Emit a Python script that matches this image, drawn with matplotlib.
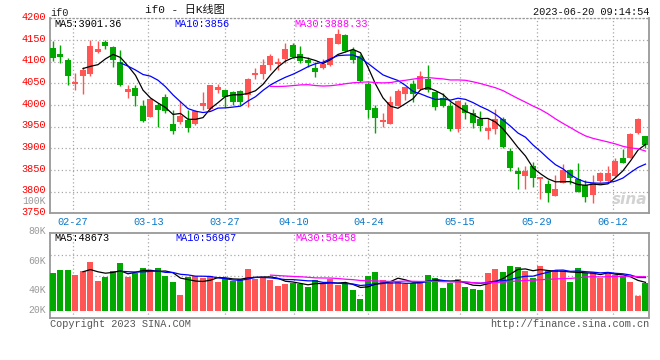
import numpy as np
import matplotlib
matplotlib.use("Agg")
import matplotlib.pyplot as plt
import matplotlib.transforms as mtransforms

# ---------------- data ----------------
opens = [4131, 4118, 4104, 4049, 4068, 4071, 4123, 4145, 4134, 4100,
         4029, 4040, 3998, 3973, 4000, 4019, 3956, 3960, 3965, 3956,
         3998, 3991, 4035, 4035, 4029, 4032, 4023, 4069, 4071, 4092,
         4095, 4105, 4138, 4117, 4104, 4085, 4086, 4092, 4141, 4161,
         4127, 4114, 4048, 3992, 3961, 3956, 3998, 4025, 4048, 4036,
         4061, 4029, 4017, 3998, 3944, 4000, 3981, 3968, 3940, 3944,
         3967, 3894, 3848, 3835, 3859, 3829, 3818, 3791, 3819, 3850,
         3829, 3815, 3792, 3825, 3825, 3835, 3878, 3878, 3935, 3928]
highs = [4148, 4138, 4109, 4073, 4087, 4151, 4148, 4151, 4137, 4127,
         4045, 4045, 4011, 4015, 4004, 4025, 3988, 4009, 3988, 3988,
         4031, 4046, 4048, 4035, 4032, 4035, 4063, 4086, 4106, 4117,
         4108, 4142, 4142, 4135, 4110, 4100, 4106, 4155, 4175, 4163,
         4133, 4117, 4054, 4000, 3981, 4021, 4038, 4042, 4058, 4078,
         4092, 4031, 4027, 4008, 4011, 4006, 3990, 3985, 3971, 3991,
         3973, 3901, 3858, 3860, 3869, 3833, 3827, 3838, 3863, 3852,
         3865, 3827, 3838, 3845, 3859, 3877, 3898, 3935, 3969, 3928]
lows = [4101, 4096, 4045, 4035, 4025, 4067, 4120, 4130, 4088, 4044,
        4015, 3998, 3961, 3972, 3950, 3982, 3933, 3956, 3938, 3954,
        3988, 3988, 4027, 3996, 4001, 4000, 3995, 4061, 4061, 4081,
        4081, 4096, 4108, 4096, 4088, 4065, 4083, 4091, 4140, 4123,
        4098, 4054, 3971, 3935, 3949, 3955, 3998, 4011, 4008, 4035,
        4031, 3988, 3996, 3941, 3937, 3968, 3948, 3941, 3921, 3932,
        3900, 3848, 3806, 3806, 3811, 3782, 3777, 3789, 3819, 3817,
        3799, 3775, 3773, 3823, 3823, 3833, 3865, 3877, 3933, 3900]
closes = [4109, 4110, 4068, 4052, 4081, 4135, 4129, 4135, 4103, 4046,
          4037, 4021, 3964, 4013, 3988, 3985, 3941, 3975, 3946, 3987,
          4005, 4046, 4042, 4018, 4006, 4006, 4061, 4073, 4092, 4113,
          4100, 4129, 4111, 4102, 4096, 4075, 4094, 4155, 4163, 4125,
          4104, 4056, 3988, 3969, 3965, 4008, 4032, 4042, 4025, 4067,
          4035, 3996, 3998, 3944, 4009, 3981, 3958, 3951, 3946, 3967,
          3902, 3854, 3840, 3848, 3831, 3833, 3796, 3805, 3850, 3831,
          3800, 3787, 3819, 3842, 3842, 3871, 3867, 3932, 3967, 3908]
volumes_k = [50.7, 52.8, 52.8, 48.8, 52.0, 59.2, 44.0, 47.2, 52.0, 58.4,
             47.2, 50.1, 54.4, 52.8, 54.4, 48.3, 43.2, 32.8, 47.2, 48.3,
             46.7, 48.3, 43.2, 46.1, 44.0, 45.6, 53.6, 45.6, 47.2, 44.5,
             40.0, 41.6, 42.7, 41.6, 38.9, 45.1, 41.6, 45.3, 40.8, 41.6,
             36.8, 29.6, 48.0, 51.2, 44.8, 44.0, 43.2, 41.3, 42.1, 44.0,
             48.8, 46.4, 38.4, 42.4, 45.6, 39.2, 37.6, 36.8, 50.4, 53.6,
             51.2, 56.0, 55.2, 52.3, 46.4, 56.0, 52.0, 52.8, 52.0, 43.2,
             54.4, 50.4, 51.2, 46.4, 50.4, 48.8, 48.0, 43.2, 32.0, 42.7]
date_labels = ["02-27", "03-13", "03-27", "04-10", "04-24", "05-15", "05-29", "06-12"]
price_ticks = [3750, 3800, 3850, 3900, 3950, 4000, 4050, 4100, 4150, 4200]
vol_labels = ["100K", "80K", "60K", "40K", "20K"]
ma_main_text = ["MA5:3901.36", "MA10:3856", "MA30:3888.33"]
ma_vol_text = ["MA5:48673", "MA10:56967", "MA30:58458"]

# ---------------- layout / style ----------------
W, H = 660, 360
date_tick_pos = [2.63, 12.71, 22.93, 32.13, 42.04, 54.27, 64.49, 74.63]
vol_label_y = [201.5, 231, 261, 290, 310]
vol_grid = [32.8, 48.0, 64.8]
RED = "#ff5555"
GREEN = "#00a800"
GRIDC = "#a8a8a8"
FRAME = "#999999"
FONT = "Liberation Mono"
FS = 7.4

plt.rcParams["font.family"] = [FONT, "Noto Sans CJK SC", "DejaVu Sans"]

o = np.array(opens, float); h = np.array(highs, float)
l = np.array(lows, float); c = np.array(closes, float)
v = np.array(volumes_k, float)
n = len(c)
x = np.arange(n)

def ma(arr, k):
    out = np.full(len(arr), np.nan)
    cs = np.convolve(arr, np.ones(k) / k, mode="valid")
    out[k - 1:] = cs
    return out

fig = plt.figure(figsize=(W / 100, H / 100), dpi=100)
fig.patch.set_facecolor("white")

def px_axes(left, top, right, bottom):
    return fig.add_axes([left / W, 1 - bottom / H, (right - left) / W, (bottom - top) / H])

ax = px_axes(50, 18.3, 649, 213.3)
axv = px_axes(50, 233, 649, 318)

xlim = (-0.4, 79.47)
dotted = (0, (1, 2))

for a in (ax, axv):
    a.set_xlim(*xlim)
    a.set_facecolor("white")
    for s in a.spines.values():
        s.set_color(FRAME)
        s.set_linewidth(1.3)
    a.set_xticks(date_tick_pos)
    a.grid(True, which="major", color=GRIDC, linestyle=dotted, linewidth=0.9)
    a.set_axisbelow(True)
ax.spines["top"].set_linestyle(dotted)
ax.spines["top"].set_linewidth(0.9)

# ---- main candles ----
ax.set_ylim(3750, 4200)
ax.set_yticks(price_ticks)
ax.set_yticklabels([str(t) for t in price_ticks], color="red", fontsize=FS, family=FONT)
ax.tick_params(axis="y", length=0, pad=3)
shift_up = mtransforms.ScaledTranslation(0, 2.2 / 100, fig.dpi_scale_trans)
for lab in ax.get_yticklabels():
    lab.set_transform(lab.get_transform() + shift_up)
ax.set_xticklabels(date_labels, color="#0a78c8", fontsize=FS, family=FONT)
ax.tick_params(axis="x", length=0, pad=3)

up = c >= o
cols = np.where(up, RED, GREEN)
ax.vlines(x, l, h, colors=cols, linewidth=1.0, zorder=3)
body_b = np.minimum(o, c)
body_h = np.maximum(np.abs(c - o), 1.0)
ax.bar(x, body_h, bottom=body_b, width=0.8, color=cols, zorder=4, linewidth=0)

ax.plot(x, ma(c, 5), color="black", lw=0.9, zorder=5)
ax.plot(x, ma(c, 10), color="#0000ff", lw=0.9, zorder=5)
ax.plot(x, ma(c, 30), color="#ff00ff", lw=0.9, zorder=5)

# ---- volume ----
axv.set_ylim(14.4, 82.4)
axv.set_yticks(vol_grid)
axv.set_yticklabels([])
axv.set_xticklabels([])
axv.tick_params(length=0)
axv.bar(x, v - 20, bottom=20, width=0.8, color=cols, zorder=3, linewidth=0)
axv.plot(x, ma(v, 5), color="black", lw=0.9, zorder=5)
axv.plot(x, ma(v, 10), color="#0000ff", lw=0.9, zorder=5)
axv.plot(x, ma(v, 30), color="#ff00ff", lw=0.9, zorder=5)

def ftext(px, py, s, **kw):
    kw.setdefault("fontsize", FS)
    kw.setdefault("va", "center")
    fig.text(px / W, 1 - py / H, s, **kw)

for lab, yy in zip(vol_labels, vol_label_y):
    ftext(46, yy, lab, ha="right", color="#999999", fontsize=7.0)

ma_cols = ["black", "#0000ff", "#ff00ff"]
for s, xx, cc in zip(ma_main_text, [54, 174, 294.5], ma_cols):
    ftext(xx, 24, s, ha="left", color=cc)
for s, xx, cc in zip(ma_vol_text, [54.5, 175, 295], ma_cols):
    ftext(xx, 238.3, s, ha="left", color=cc)

ftext(50.5, 12.5, "if0", ha="left", color="#222222")
ftext(185, 9.5, "if0 - 日K线图", ha="center", color="#111111", fontsize=8,
      family=[FONT, "Noto Sans CJK SC"])
ftext(649, 12.3, "2023-06-20 09:14:54", ha="right", color="#111111")
ftext(50, 324, "Copyright 2023 SINA.COM", ha="left", color="#555555")
ftext(649, 324, "http://finance.sina.com.cn", ha="right", color="#555555")
ftext(647, 199, "sina", ha="right", color="#d2d2d2", fontsize=11,
      fontweight="bold", style="italic", family="DejaVu Sans")

fig.savefig("out.png", dpi=100, facecolor="white")
